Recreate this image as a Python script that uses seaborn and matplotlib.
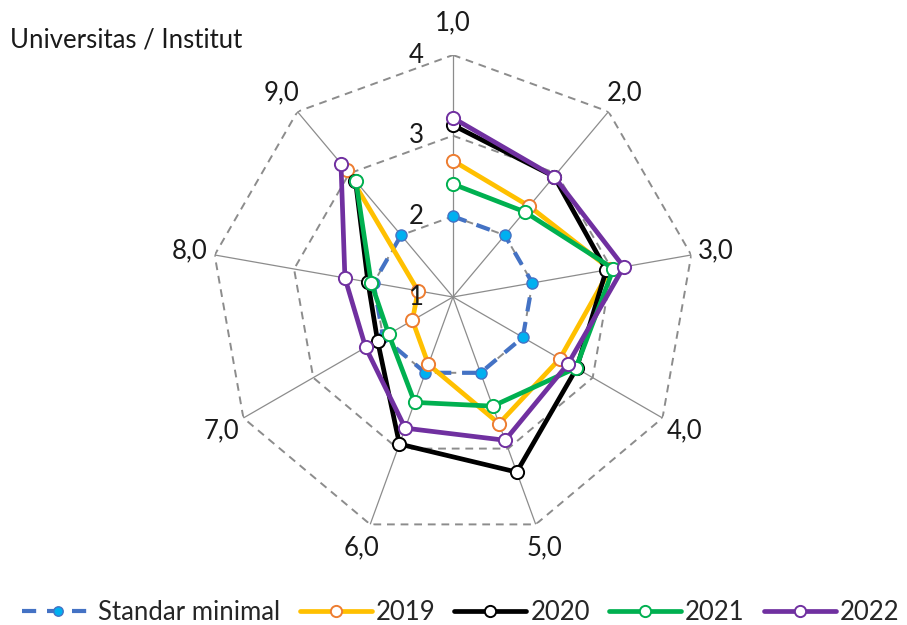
import numpy as np
import pandas as pd
import matplotlib
matplotlib.use("Agg")
import matplotlib.pyplot as plt
from matplotlib.lines import Line2D
import seaborn as sns

# ---- data ----
axis_labels = ["1,0", "2,0", "3,0", "4,0", "5,0", "6,0", "7,0", "8,0", "9,0"]
standar_minimal = [2.0, 2.0, 2.0, 2.0, 2.0, 2.0, 2.0, 2.0, 2.0]
y2019 = [2.69, 2.47, 2.98, 2.53, 2.67, 1.89, 1.58, 1.44, 3.05]
y2020 = [3.13, 2.95, 2.93, 2.77, 3.31, 2.94, 2.08, 2.07, 2.88]
y2021 = [2.40, 2.38, 3.02, 2.76, 2.44, 2.39, 1.92, 2.03, 2.87]
y2022 = [3.22, 2.95, 3.15, 2.65, 2.89, 2.73, 2.25, 2.36, 3.16]
series_names = ["Standar minimal", "2019", "2020", "2021", "2022"]
radial_ticks = [1, 2, 3, 4]
title_text = "Universitas / Institut"

sns.set_theme(style="white")
plt.rcParams["font.family"] = ["Lato", "DejaVu Sans"]

FS = 18.5
TXT = "#1a1a1a"

fig = plt.figure(figsize=(9.07, 6.25), dpi=100)
ax = fig.add_axes([0.2326, 0.1376, 0.5336, 0.7744], projection="polar")
ax.set_theta_offset(np.pi / 2)
ax.set_theta_direction(-1)
ax.set_ylim(radial_ticks[0], radial_ticks[-1])
ax.grid(False)
ax.spines["polar"].set_visible(False)
ax.set_xticks([])
ax.set_yticks([])
ax.set_facecolor("white")

n = len(axis_labels)
theta = np.linspace(0, 2 * np.pi, n, endpoint=False)
theta_c = np.append(theta, theta[0])

# spokes
for t in theta:
    ax.plot([t, t], [radial_ticks[0], radial_ticks[-1]], color="#8c8c8c", lw=0.9, zorder=1)
# rings
for v in radial_ticks[1:]:
    ax.plot(theta_c, [v] * len(theta_c), color="#8c8c8c", lw=1.4, ls=(0, (4, 3)), zorder=1)

# radial tick labels
for v in radial_ticks:
    ax.annotate(str(v), xy=(0, v), xytext=(-29, 0), textcoords="offset pixels",
                ha="right", va="center", fontsize=FS, color=TXT, zorder=20)

# category labels
for t, lab in zip(theta, axis_labels):
    s, c = np.sin(t), np.cos(t)
    off = 32 if c > 0.95 else 25
    ax.annotate(lab, xy=(t, radial_ticks[-1]), xytext=(off * s, off * c), textcoords="offset pixels",
                ha="center", va="center", fontsize=FS, color=TXT, annotation_clip=False)

styles = {
    "Standar minimal": dict(color="#4472C4", lw=3.0, ls=(0, (3.4, 2.6)), marker="o", ms=8,
                            mfc="#00B0F0", mec="#4472C4", mew=1.0),
    "2019": dict(color="#FFC000", lw=3.4, ls="-", marker="o", ms=9.5, mfc="white", mec="#ED7D31", mew=1.4),
    "2020": dict(color="#000000", lw=3.4, ls="-", marker="o", ms=9.5, mfc="white", mec="#000000", mew=1.4),
    "2021": dict(color="#00B050", lw=3.4, ls="-", marker="o", ms=9.5, mfc="white", mec="#00B050", mew=1.4),
    "2022": dict(color="#7030A0", lw=3.4, ls="-", marker="o", ms=9.5, mfc="white", mec="#7030A0", mew=1.4),
}

all_vals = [standar_minimal, y2019, y2020, y2021, y2022]
handles = []
for z, (name, vals) in enumerate(zip(series_names, all_vals)):
    st = styles[name]
    df = pd.DataFrame({"theta": theta_c, "value": list(vals) + [vals[0]]})
    sns.lineplot(data=df, x="theta", y="value", ax=ax, sort=False, color=st["color"],
                 linewidth=st["lw"], linestyle=st["ls"], zorder=3 + z)
    ax.plot(theta, vals, ls="none", marker=st["marker"], ms=st["ms"], mfc=st["mfc"],
            mec=st["mec"], mew=st["mew"], zorder=3 + z, clip_on=False)
    handles.append(Line2D([0], [0], color=st["color"], lw=st["lw"], ls=st["ls"], marker="o",
                          ms=st["ms"] * 0.85, mfc=st["mfc"], mec=st["mec"], mew=st["mew"]))

ax.set_xlabel("")
ax.set_ylabel("")
if ax.get_legend() is not None:
    ax.get_legend().remove()

fig.text(0.011, 0.936, title_text, fontsize=FS, color=TXT, ha="left", va="center")

fig.legend(handles, series_names, loc="center", bbox_to_anchor=(0.508, 1 - 612 / 625), ncol=5,
           frameon=False, fontsize=FS, handlelength=2.8, handletextpad=0.15, columnspacing=0.75,
           borderpad=0.1, borderaxespad=0.0)

fig.savefig("out.png", dpi=100, facecolor="white")
